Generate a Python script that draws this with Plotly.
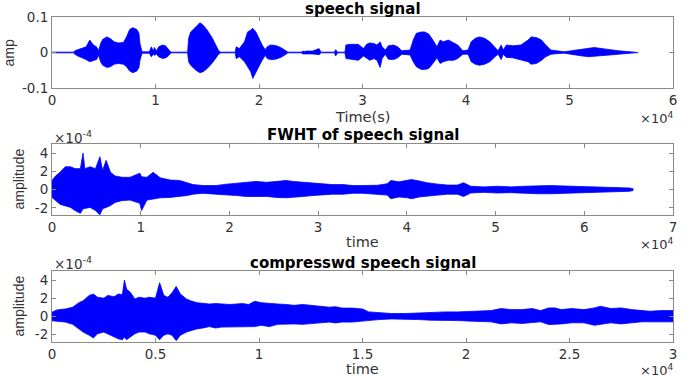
import plotly.graph_objects as go

W, H = 685, 377

# ---------------- data ----------------
# Panel 1: speech signal envelope, x in units of 1e4 samples, amplitude
SIG_X = [0, 0.21, 0.22, 0.25, 0.285, 0.33, 0.365, 0.40, 0.43, 0.45, 0.47, 0.49, 0.53, 0.565, 0.60,
         0.64, 0.69, 0.72, 0.75, 0.78, 0.82, 0.84, 0.85, 0.87, 0.94, 0.96, 0.98, 0.99, 1.01, 1.03,
         1.07, 1.10, 1.13, 1.15, 1.31, 1.32, 1.34, 1.39, 1.43, 1.46, 1.50, 1.55, 1.58, 1.61, 1.63,
         1.77, 1.78, 1.81, 1.86, 1.89, 1.92, 1.94, 1.97, 2.00, 2.03, 2.06, 2.08, 2.11, 2.16, 2.21,
         2.26, 2.28, 2.41, 2.42, 2.44, 2.46, 2.52, 2.58, 2.60, 2.73, 2.74, 2.76, 2.83, 2.84, 2.88,
         2.96, 3.01, 3.04, 3.07, 3.11, 3.14, 3.17, 3.19, 3.22, 3.25, 3.30, 3.34, 3.38, 3.46, 3.49,
         3.52, 3.57, 3.60, 3.64, 3.68, 3.72, 3.75, 3.78, 3.83, 3.88, 3.92, 3.97, 4.02, 4.05, 4.09,
         4.13, 4.18, 4.23, 4.28, 4.31, 4.34, 4.36, 4.39, 4.45, 4.53, 4.60, 4.63, 4.68, 4.73, 4.77,
         4.82, 4.89, 4.95, 5.02, 5.08, 5.18, 5.24, 5.34, 5.47, 5.63, 5.66]
SIG_UP = [0.001, 0.001, 0.005, 0.008, 0.013, 0.016, 0.035, 0.021, 0.016, 0.005, 0.025, 0.037, 0.044, 0.039, 0.030,
          0.027, 0.028, 0.044, 0.065, 0.070, 0.065, 0.054, 0.025, 0.002, 0.002, 0.016, 0.004, 0.014, 0.004, 0.016,
          0.021, 0.018, 0.007, 0.001, 0.001, 0.040, 0.058, 0.072, 0.084, 0.077, 0.063, 0.040, 0.021, 0.005, 0.001,
          0.001, 0.016, 0.011, 0.030, 0.058, 0.063, 0.068, 0.058, 0.040, 0.021, 0.008, 0.016, 0.021, 0.020, 0.014,
          0.005, 0.001, 0.001, 0.004, 0.003, 0.004, 0.004, 0.011, 0.001, 0.001, 0.008, 0.001, 0.001, 0.021, 0.023,
          0.023, 0.011, 0.023, 0.027, 0.025, 0.021, 0.030, 0.016, 0.007, 0.019, 0.021, 0.016, 0.005, 0.007, 0.035,
          0.054, 0.058, 0.058, 0.052, 0.035, 0.016, 0.035, 0.030, 0.035, 0.027, 0.021, 0.005, 0.007, 0.030, 0.040,
          0.044, 0.040, 0.030, 0.016, 0.005, 0.021, 0.007, 0.021, 0.019, 0.021, 0.035, 0.044, 0.042, 0.035, 0.021,
          0.007, 0.004, 0.002, 0.005, 0.008, 0.013, 0.014, 0.010, 0.005, 0.001, 0.0005]
SIG_LO = [-0.001, -0.001, -0.005, -0.010, -0.015, -0.020, -0.026, -0.023, -0.020, -0.008, -0.026, -0.036, -0.042, -0.040, -0.033,
          -0.031, -0.033, -0.040, -0.052, -0.057, -0.052, -0.042, -0.022, -0.002, -0.002, -0.012, -0.004, -0.008, -0.004, -0.012,
          -0.017, -0.015, -0.008, -0.001, -0.001, -0.026, -0.036, -0.050, -0.057, -0.054, -0.045, -0.029, -0.017, -0.005, -0.001,
          -0.001, -0.017, -0.012, -0.026, -0.040, -0.054, -0.073, -0.059, -0.040, -0.022, -0.008, -0.017, -0.020, -0.019, -0.014,
          -0.005, -0.001, -0.001, -0.004, -0.003, -0.004, -0.004, -0.006, -0.001, -0.001, -0.010, -0.001, -0.001, -0.017, -0.020,
          -0.022, -0.010, -0.017, -0.022, -0.017, -0.022, -0.042, -0.017, -0.005, -0.019, -0.020, -0.015, -0.005, -0.007, -0.026,
          -0.040, -0.048, -0.048, -0.045, -0.031, -0.015, -0.031, -0.026, -0.022, -0.022, -0.017, -0.005, -0.005, -0.026, -0.033,
          -0.036, -0.033, -0.026, -0.012, -0.005, -0.020, -0.005, -0.014, -0.015, -0.020, -0.026, -0.033, -0.031, -0.022, -0.012,
          -0.005, -0.003, -0.002, -0.005, -0.008, -0.012, -0.012, -0.009, -0.005, -0.001, -0.0005]

# Panel 2: FWHT of speech signal, x in 1e4, amplitude in 1e-4
FW_X = [0, 0.04, 0.09, 0.15, 0.21, 0.26, 0.32, 0.35, 0.37, 0.43, 0.49, 0.54, 0.57, 0.61, 0.66, 0.71,
        0.79, 0.88, 0.99, 1.01, 1.07, 1.14, 1.22, 1.33, 1.44, 1.52, 1.59, 1.70, 1.85, 1.97, 2.08, 2.19,
        2.30, 2.42, 2.53, 2.64, 2.72, 2.83, 2.94, 3.05, 3.16, 3.28, 3.39, 3.50, 3.56, 3.67, 3.78, 3.82,
        3.91, 4.01, 4.05, 4.14, 4.23, 4.35, 4.46, 4.57, 4.64, 4.72, 4.87, 5.02, 5.17, 5.32, 5.47, 5.62,
        5.77, 5.92, 6.08, 6.23, 6.38, 6.51, 6.55]
FW_UP = [1.0, 1.5, 1.9, 2.5, 2.5, 2.3, 2.3, 4.0, 2.3, 2.5, 2.3, 3.6, 2.1, 3.2, 1.9, 1.5,
         1.35, 1.35, 1.8, 1.4, 1.35, 1.9, 1.3, 1.05, 1.0, 0.8, 0.55, 0.45, 0.45, 0.6, 0.7, 0.8,
         0.9, 0.8, 0.9, 1.0, 0.9, 0.8, 0.7, 0.6, 0.55, 0.55, 0.45, 0.45, 0.45, 0.48, 0.65, 1.0,
         0.85, 1.0, 1.1, 0.95, 0.75, 0.6, 0.5, 0.5, 0.75, 0.37, 0.3, 0.37, 0.3, 0.37, 0.45, 0.45,
         0.4, 0.37, 0.3, 0.3, 0.22, 0.18, 0.1]
FW_LO = [-0.85, -1.2, -1.6, -1.8, -1.95, -2.3, -2.6, -2.1, -2.1, -1.95, -2.3, -2.75, -2.1, -1.95, -1.75, -1.4,
         -1.2, -1.15, -1.5, -2.3, -1.15, -1.0, -0.9, -0.85, -0.75, -0.65, -0.5, -0.4, -0.5, -0.55, -0.65, -0.75,
         -0.75, -0.75, -0.85, -0.9, -0.85, -0.75, -0.65, -0.55, -0.5, -0.5, -0.4, -0.4, -0.45, -0.5, -0.6, -1.0,
         -0.8, -0.9, -1.0, -0.8, -0.75, -0.6, -0.5, -0.5, -0.75, -0.37, -0.3, -0.37, -0.33, -0.37, -0.45, -0.45,
         -0.4, -0.33, -0.3, -0.3, -0.22, -0.18, -0.1]

# Panel 3: compressed speech signal, x in 1e4, amplitude in 1e-4
CP_X = [0, 0.024, 0.064, 0.10, 0.13, 0.15, 0.18, 0.20, 0.22, 0.25, 0.27, 0.30, 0.32, 0.34, 0.35, 0.36,
        0.38, 0.40, 0.42, 0.45, 0.47, 0.50, 0.52, 0.54, 0.56, 0.58, 0.60, 0.62, 0.65, 0.67, 0.70, 0.73,
        0.76, 0.79, 0.82, 0.86, 0.89, 0.92, 0.95, 0.98, 1.01, 1.05, 1.09, 1.13, 1.17, 1.21, 1.25, 1.29,
        1.34, 1.37, 1.40, 1.45, 1.50, 1.53, 1.58, 1.64, 1.71, 1.77, 1.83, 1.90, 1.96, 2.03, 2.07, 2.12,
        2.17, 2.22, 2.27, 2.32, 2.36, 2.40, 2.43, 2.46, 2.51, 2.57, 2.62, 2.65, 2.70, 2.75, 2.80, 2.85,
        2.89, 2.94, 3.0]
CP_UP = [0.45, 0.7, 0.8, 1.0, 1.5, 1.7, 2.3, 2.45, 2.1, 2.0, 2.3, 2.15, 2.45, 2.4, 4.0, 3.0,
         2.6, 1.9, 2.1, 2.0, 2.1, 2.0, 3.7, 2.3, 2.1, 2.6, 3.3, 2.45, 1.9, 1.7, 1.5, 1.4,
         1.35, 1.4, 1.35, 1.3, 1.35, 1.4, 1.3, 1.65, 1.5, 1.4, 1.35, 1.3, 1.2, 1.3, 1.2, 1.05,
         1.0, 1.05, 0.9, 0.9, 0.8, 0.48, 0.37, 0.3, 0.3, 0.37, 0.44, 0.48, 0.48, 0.55, 0.55, 0.62,
         0.85, 0.73, 0.73, 0.85, 0.62, 0.92, 0.92, 0.73, 0.85, 0.73, 0.92, 1.1, 0.85, 0.92, 0.73, 0.62,
         0.55, 0.62, 0.62]
CP_LO = [-0.5, -0.55, -0.65, -0.9, -1.4, -1.75, -2.1, -2.4, -1.95, -1.75, -1.95, -2.3, -2.5, -2.6, -2.3, -2.6,
         -2.3, -1.95, -1.75, -1.75, -1.95, -2.1, -2.6, -2.1, -1.95, -2.1, -2.7, -2.1, -1.75, -1.6, -1.4, -1.3,
         -1.15, -1.3, -1.2, -1.15, -1.2, -1.2, -1.15, -1.15, -1.0, -1.15, -0.9, -0.9, -0.85, -0.9, -0.9, -0.75,
         -0.65, -0.75, -0.65, -0.65, -0.55, -0.48, -0.37, -0.3, -0.3, -0.37, -0.44, -0.48, -0.48, -0.55, -0.62, -0.62,
         -0.85, -0.73, -0.8, -0.73, -0.62, -0.92, -0.85, -0.85, -0.73, -0.73, -1.0, -0.85, -0.73, -0.85, -0.73, -0.62,
         -0.55, -0.62, -0.62]

TITLES = ["speech signal", "FWHT of speech signal", "compresswd speech signal"]
XLABELS = ["Time(s)", "time", "time"]
YLABELS = ["amp", "amplitude", "amplitude"]

# ---------------- layout helpers ----------------
def px(x):
    return x / W

def py(y):
    return 1 - y / H

XDOM = [px(52), px(673)]
YDOMS = [[py(88), py(17)], [py(215), py(144)], [py(342), py(271)]]

BLUE = "#0000FF"
AXC = "#8a8a8a"
TXT = "#333333"
TICKFONT = dict(family="DejaVu Sans, sans-serif", size=13.5, color=TXT)

fig = go.Figure()

series = [(SIG_X, SIG_UP, SIG_LO), (FW_X, FW_UP, FW_LO), (CP_X, CP_UP, CP_LO)]
for i, (xs, up, lo) in enumerate(series):
    sfx = "" if i == 0 else str(i + 1)
    fig.add_trace(go.Scatter(
        x=list(xs) + list(xs[::-1]),
        y=list(up) + list(lo[::-1]),
        fill="toself", fillcolor=BLUE, mode="lines",
        line=dict(color=BLUE, width=0.8),
        xaxis="x" + sfx, yaxis="y" + sfx, showlegend=False, hoverinfo="skip"))

axis_common = dict(showline=True, linecolor=AXC, linewidth=1, mirror="ticks",
                   ticks="inside", ticklen=4, tickcolor=AXC, showgrid=False,
                   zeroline=False, tickfont=TICKFONT, automargin=False)

fig.update_layout(
    width=W, height=H, margin=dict(l=0, r=0, t=0, b=0, autoexpand=False),
    paper_bgcolor="white", plot_bgcolor="white",
    xaxis=dict(domain=XDOM, range=[0, 6], tickvals=[0, 1, 2, 3, 4, 5, 6], anchor="y", **axis_common),
    yaxis=dict(domain=YDOMS[0], range=[-0.1, 0.1], tickvals=[-0.1, 0, 0.1],
               ticktext=["-0.1", "0", "0.1"], anchor="x", **axis_common),
    xaxis2=dict(domain=XDOM, range=[0, 7], tickvals=[0, 1, 2, 3, 4, 5, 6, 7], anchor="y2", **axis_common),
    yaxis2=dict(domain=YDOMS[1], range=[-2.78, 5], tickvals=[-2, 0, 2, 4],
                ticktext=["-2", "0", "2", "4"], anchor="x2", **axis_common),
    xaxis3=dict(domain=XDOM, range=[0, 3], tickvals=[0, 0.5, 1, 1.5, 2, 2.5, 3],
                ticktext=["0", "0.5", "1", "1.5", "2", "2.5", "3"], anchor="y3", **axis_common),
    yaxis3=dict(domain=YDOMS[2], range=[-2.85, 5], tickvals=[-2, 0, 2, 4],
                ticktext=["-2", "0", "2", "4"], anchor="x3", **axis_common),
)

ann = []
title_y = [9, 135, 263]
xlab_y = [117, 242, 369]
x10_y = [118, 244, 370]
ylab_x = [8, 18, 18]
for i in range(3):
    ann.append(dict(x=px(363), y=py(title_y[i]), xref="paper", yref="paper", text="<b>" + TITLES[i] + "</b>",
                    showarrow=False, xanchor="center", yanchor="middle",
                    font=dict(family="DejaVu Sans, sans-serif", size=15, color="black")))
    ann.append(dict(x=px(362), y=py(xlab_y[i]), xref="paper", yref="paper", text=XLABELS[i],
                    showarrow=False, xanchor="center", yanchor="middle",
                    font=dict(family="DejaVu Sans, sans-serif", size=14.5, color=TXT)))
    ann.append(dict(x=px(675), y=py(x10_y[i]), xref="paper", yref="paper", text="×10<sup>4</sup>",
                    showarrow=False, xanchor="right", yanchor="middle",
                    font=dict(family="DejaVu Sans, sans-serif", size=13, color=TXT)))
    cy = (YDOMS[i][0] + YDOMS[i][1]) / 2
    ann.append(dict(x=px(ylab_x[i]), y=cy, xref="paper", yref="paper", text=YLABELS[i],
                    showarrow=False, xanchor="center", yanchor="middle", textangle=-90,
                    font=dict(family="Liberation Sans, Arial, sans-serif", size=14, color=TXT)))
for yy in [137, 263]:
    ann.append(dict(x=px(52), y=py(yy), xref="paper", yref="paper", text="×10<sup>-4</sup>",
                    showarrow=False, xanchor="left", yanchor="middle",
                    font=dict(family="DejaVu Sans, sans-serif", size=13.5, color=TXT)))
fig.update_layout(annotations=ann)

fig.write_html("out.html", config={"displayModeBar": False},
               post_script="document.body.style.margin='0';document.body.style.overflow='hidden';")
